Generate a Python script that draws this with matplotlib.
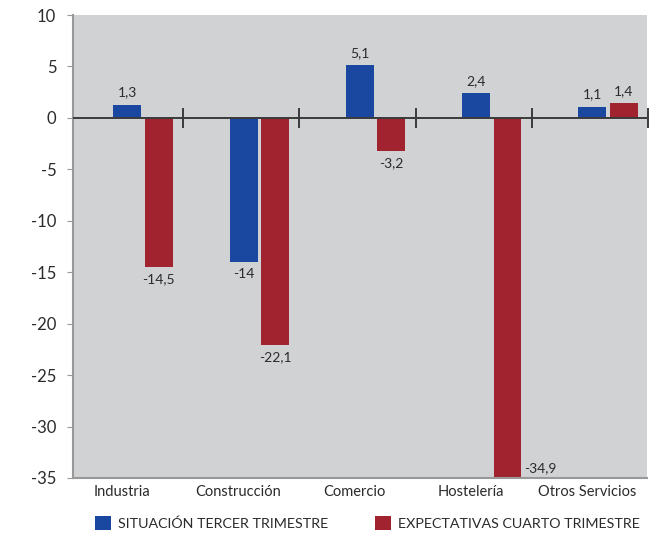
import numpy as np
import matplotlib.pyplot as plt

plt.rcParams['font.family'] = ['Lato', 'DejaVu Sans']

# datos
categorias = ['Industria', 'Construcción', 'Comercio', 'Hostelería', 'Otros Servicios']
situacion = [1.3, -14, 5.1, 2.4, 1.1]
expectativas = [-14.5, -22.1, -3.2, -34.9, 1.4]
serie_nombres = ['SITUACIÓN TERCER TRIMESTRE', 'EXPECTATIVAS CUARTO TRIMESTRE']
yticks = [10, 5, 0, -5, -10, -15, -20, -25, -30, -35]

azul = '#1a47a0'
rojo = '#a0232f'
texto = '#2b2b2b'

fig = plt.figure(figsize=(6.61, 5.36), dpi=100)
ax = fig.add_axes([73/661, 1 - 478/536, (647-73)/661, (478-15)/536])
ax.set_facecolor('#d1d2d4')

x = np.arange(len(categorias))
w = 0.24
off = 0.135
b1 = ax.bar(x - off, situacion, w, color=azul, label=serie_nombres[0], zorder=2)
b2 = ax.bar(x + off, expectativas, w, color=rojo, label=serie_nombres[1], zorder=2)

def fmt(v):
    return ('%g' % v).replace('.', ',')

for bars, vals in [(b1, situacion), (b2, expectativas)]:
    for b, v in zip(bars, vals):
        cx = b.get_x() + b.get_width() / 2
        if v < -30:
            ax.text(b.get_x() + b.get_width() + 0.02, v + 0.3, fmt(v), ha='left', va='bottom',
                    fontsize=10, color=texto)
        elif v >= 0:
            ax.text(cx, v + 0.6, fmt(v), ha='center', va='bottom', fontsize=10, color=texto)
        else:
            ax.text(cx, v - 0.6, fmt(v), ha='center', va='top', fontsize=10, color=texto)

# linea del cero con marcas
ax.axhline(0, color='#3a3a3a', lw=1.4, zorder=3)
for t in x + 0.345:
    ax.plot([t, t], [-0.9, 0.9], color='#3a3a3a', lw=1.4, zorder=3, clip_on=False)

ax.set_xlim(-0.602, 4.335)
ax.set_ylim(-35, 10)
ax.set_yticks(yticks)
ax.set_yticklabels([str(t) for t in yticks], fontsize=12, color=texto)
ax.tick_params(axis='y', length=4, color='#999999', pad=8)
ax.set_xticks(x - 0.18)
ax.set_xticklabels(categorias, fontsize=10.5, color=texto)
ax.tick_params(axis='x', length=0, pad=5)

for s in ['top', 'right']:
    ax.spines[s].set_visible(False)
ax.spines['left'].set_color('#999999')
ax.spines['left'].set_linewidth(1.5)
ax.spines['bottom'].set_color('#999999')
ax.spines['bottom'].set_linewidth(1.5)

fig.legend(handles=[b1, b2], loc='lower left', bbox_to_anchor=(82/661, -0.012),
           ncol=2, frameon=False, handlelength=1.1, handleheight=1.1,
           columnspacing=3.3, handletextpad=0.5, labelcolor=texto,
           prop={'size': 10.3})

fig.savefig('out.png', dpi=100)
